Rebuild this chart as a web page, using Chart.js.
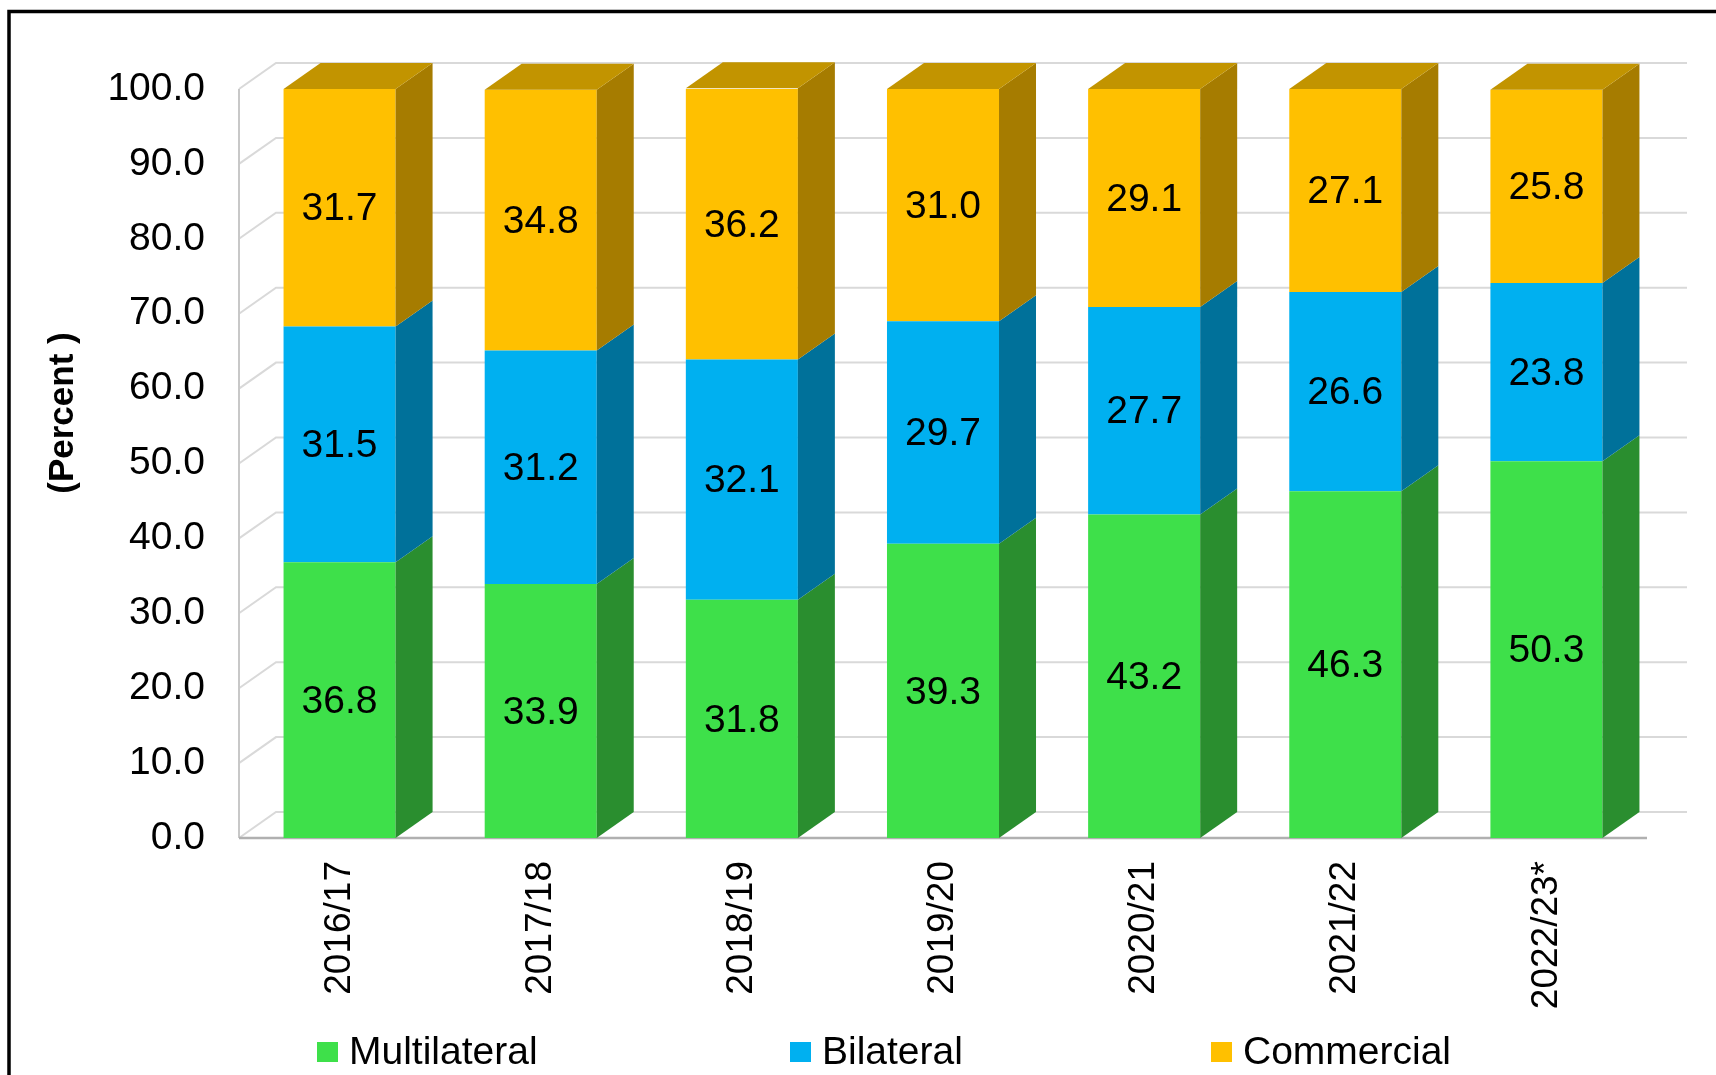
<!DOCTYPE html>
<html>
<head>
<meta charset="utf-8">
<script src="https://cdn.jsdelivr.net/npm/chart.js@4.4.1/dist/chart.umd.min.js"></script>
<style>
  body { margin: 0; background: #fff; overflow: hidden; }
  #wrap { width: 1716px; height: 1075px; position: relative; }
</style>
</head>
<body>
<div id="wrap"><canvas id="myChart"></canvas></div>
<script>
// chart data
var years = ['2016/17', '2017/18', '2018/19', '2019/20', '2020/21', '2021/22', '2022/23*'];
var multilateral = [36.8, 33.9, 31.8, 39.3, 43.2, 46.3, 50.3];
var bilateral = [31.5, 31.2, 32.1, 29.7, 27.7, 26.6, 23.8];
var commercial = [31.7, 34.8, 36.2, 31.0, 29.1, 27.1, 25.8];
var seriesNames = ['Multilateral', 'Bilateral', 'Commercial'];
var axisTitle = '(Percent )';

// colours: front face, side face
var frontColors = ['#3EE04A', '#00B0F0', '#FFC000'];
var sideColors = ['#2A8E2F', '#00719A', '#A67C00'];
var topColor = '#C29400';

var depthX = 37, depthY = -26;
var FONT = '"Liberation Sans", Arial, sans-serif';

// back wall, left wall and floor
var wallPlugin = {
    id: 'walls',
    beforeDraw: function(chart) {
        var ctx = chart.ctx;
        ctx.save();
        ctx.fillStyle = '#fff';
        ctx.fillRect(0, 0, chart.width, chart.height);
        ctx.strokeStyle = '#000';
        ctx.lineWidth = 3.5;
        ctx.strokeRect(9, 11.5, chart.width + 50, chart.height + 50);
        ctx.restore();
    },
    beforeDatasetsDraw: function(chart) {
        var ctx = chart.ctx, a = chart.chartArea, y = chart.scales.y;
        ctx.save();
        ctx.lineWidth = 2;
        ctx.strokeStyle = '#d9d9d9';
        y.ticks.forEach(function(t) {
            var py = y.getPixelForValue(t.value);
            ctx.beginPath();
            ctx.moveTo(a.left, py);
            ctx.lineTo(a.left + depthX, py + depthY);
            ctx.lineTo(a.right + depthX + 3, py + depthY);
            ctx.stroke();
        });
        ctx.strokeStyle = '#c8c8c8';
        ctx.beginPath();
        ctx.moveTo(a.left, a.top);
        ctx.lineTo(a.left, a.bottom);
        ctx.stroke();
        ctx.strokeStyle = '#b0b0b0';
        ctx.lineWidth = 2.5;
        ctx.beginPath();
        ctx.moveTo(a.left, a.bottom);
        ctx.lineTo(a.right, a.bottom);
        ctx.stroke();
        ctx.restore();
    }
};

// side and top faces of the bars, then the value labels
var boxPlugin = {
    id: 'box3d',
    afterDatasetsDraw: function(chart) {
        var ctx = chart.ctx;
        var n = chart.data.datasets.length;
        ctx.save();
        for (var d = 0; d < n; d++) {
            var meta = chart.getDatasetMeta(d);
            meta.data.forEach(function(bar) {
                var r = bar.x + bar.width / 2;
                ctx.fillStyle = sideColors[d];
                ctx.beginPath();
                ctx.moveTo(r, bar.y);
                ctx.lineTo(r + depthX, bar.y + depthY);
                ctx.lineTo(r + depthX, bar.base + depthY);
                ctx.lineTo(r, bar.base);
                ctx.closePath();
                ctx.fill();
                if (d === n - 1) {
                    var l = bar.x - bar.width / 2;
                    ctx.fillStyle = topColor;
                    ctx.beginPath();
                    ctx.moveTo(l, bar.y);
                    ctx.lineTo(l + depthX, bar.y + depthY);
                    ctx.lineTo(r + depthX, bar.y + depthY);
                    ctx.lineTo(r, bar.y);
                    ctx.closePath();
                    ctx.fill();
                }
            });
        }
        ctx.fillStyle = '#000';
        ctx.font = '39px ' + FONT;
        ctx.textAlign = 'center';
        ctx.textBaseline = 'middle';
        for (var d2 = 0; d2 < n; d2++) {
            var ds = chart.data.datasets[d2];
            chart.getDatasetMeta(d2).data.forEach(function(bar, i) {
                ctx.fillText(ds.data[i].toFixed(1), bar.x, (bar.y + bar.base) / 2 + 2);
            });
        }
        ctx.restore();
    }
};

// rotated axis title and the legend row
var textPlugin = {
    id: 'texts',
    afterDraw: function(chart) {
        var ctx = chart.ctx;
        ctx.save();
        ctx.fillStyle = '#000';
        ctx.translate(63, 413);
        ctx.rotate(-Math.PI / 2);
        ctx.font = 'bold 35px ' + FONT;
        ctx.textAlign = 'center';
        ctx.textBaseline = 'middle';
        ctx.fillText(axisTitle, 0, 0);
        ctx.restore();

        var legendX = [317, 790, 1211];
        ctx.save();
        ctx.font = '39px ' + FONT;
        ctx.textBaseline = 'middle';
        chart.data.datasets.forEach(function(ds, i) {
            ctx.fillStyle = ds.backgroundColor;
            ctx.fillRect(legendX[i], 1042, 21, 20);
            ctx.fillStyle = '#000';
            ctx.fillText(ds.label, legendX[i] + 32, 1053);
        });
        ctx.restore();
    }
};

var ctx = document.getElementById('myChart');
var myChart = new Chart(ctx, {
    type: 'bar',
    data: {
        labels: years,
        datasets: [{
            label: seriesNames[0],
            data: multilateral,
            backgroundColor: frontColors[0]
        }, {
            label: seriesNames[1],
            data: bilateral,
            backgroundColor: frontColors[1]
        }, {
            label: seriesNames[2],
            data: commercial,
            backgroundColor: frontColors[2]
        }]
    },
    options: {
        responsive: true,
        maintainAspectRatio: false,
        animation: false,
        layout: {
            padding: { left: 0, right: 69, top: 89, bottom: 0 }
        },
        datasets: {
            bar: { barPercentage: 0.557, categoryPercentage: 1, borderWidth: 0 }
        },
        plugins: {
            legend: { display: false },
            tooltip: { enabled: false }
        },
        scales: {
            x: {
                stacked: true,
                grid: { display: false, drawTicks: false },
                border: { display: false },
                ticks: {
                    color: '#000',
                    font: { family: FONT, size: 37 },
                    minRotation: 90,
                    maxRotation: 90,
                    autoSkip: false,
                    padding: 23
                },
                afterFit: function(scale) { scale.height = 237; }
            },
            y: {
                stacked: true,
                min: 0,
                max: 100,
                grid: { display: false, drawTicks: false },
                border: { display: false },
                ticks: {
                    stepSize: 10,
                    color: '#000',
                    font: { family: FONT, size: 39 },
                    padding: 34,
                    callback: function(v) { return v.toFixed(1); }
                },
                afterFit: function(scale) { scale.width = 239; }
            }
        }
    },
    plugins: [wallPlugin, boxPlugin, textPlugin]
});
</script>
</body>
</html>
